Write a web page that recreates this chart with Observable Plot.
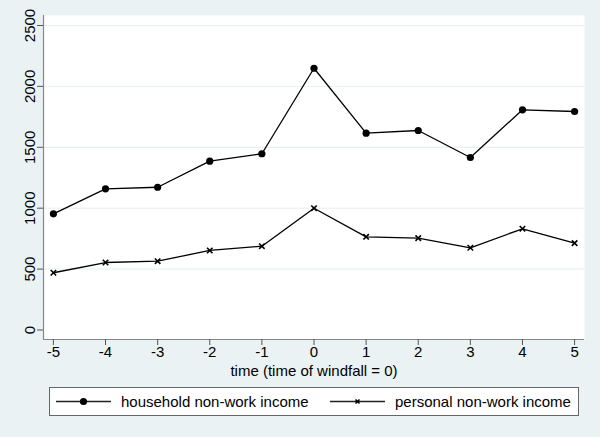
<!DOCTYPE html>
<html>
<head>
<meta charset="utf-8">
<script src="https://cdn.jsdelivr.net/npm/d3@7"></script>
<script src="https://cdn.jsdelivr.net/npm/@observablehq/plot@0.6"></script>
<style>
  html, body { margin: 0; padding: 0; background: #eaf2f3; }
  body { width: 600px; height: 437px; overflow: hidden; font-family: "Liberation Sans", Arial, sans-serif; }
  #chart svg { display: block; }
  #legend { position: relative; margin-left: 49px; margin-top: 7px; width: 528px; height: 27px;
            border: 1px solid #666; background: #fff; font-size: 15px; color: #000; }
  #legend .item { position: absolute; top: 0; height: 27px; display: flex; align-items: center; }
  #legend svg { display: block; }
</style>
</head>
<body>
<div id="chart"></div>
<div id="legend"></div>
<script>
const times = [-5, -4, -3, -2, -1, 0, 1, 2, 3, 4, 5];
const householdIncome = [954, 1159, 1172, 1386, 1447, 2149, 1616, 1638, 1416, 1808, 1794];
const personalIncome = [470, 554, 565, 653, 688, 1000, 765, 754, 675, 831, 713];
const seriesNames = ["household non-work income", "personal non-work income"];
const yTicks = [0, 500, 1000, 1500, 2000, 2500];
const xTicks = [-5, -4, -3, -2, -1, 0, 1, 2, 3, 4, 5];
const xTitle = "time (time of windfall = 0)";

const household = times.map((t, i) => ({t, v: householdIncome[i]}));
const personal = times.map((t, i) => ({t, v: personalIncome[i]}));

const xDomain = [-5.19, 5.19];
const yDomain = [-78, 2582];

const chart = Plot.plot({
  width: 600,
  height: 380,
  marginLeft: 43,
  marginRight: 16,
  marginTop: 15,
  marginBottom: 41,
  style: { background: "transparent", fontSize: "15px", fontFamily: "'Liberation Sans', Arial, sans-serif", color: "#000" },
  x: { domain: xDomain, label: null },
  y: { domain: yDomain, label: null },
  marks: [
    Plot.frame({ fill: "white", stroke: "none" }),
    Plot.gridY(yTicks.filter(d => d > 0), { stroke: "#e6eef0", strokeOpacity: 1, strokeWidth: 1 }),
    Plot.ruleX([xDomain[0]], { stroke: "#888", strokeWidth: 1.2 }),
    Plot.ruleY([yDomain[0]], { stroke: "#888", strokeWidth: 1.2 }),
    Plot.axisY(yTicks, { tickSize: 6, tickPadding: 3, tickRotate: -90, stroke: "#555", tickFormat: d => `${d}`, label: null, fontSize: 15 }),
    Plot.axisX(xTicks, { tickSize: 6, tickPadding: 1, stroke: "#555", tickFormat: d => `${d}`, label: null, fontSize: 15 }),
    Plot.text([xTitle], { text: d => d, frameAnchor: "bottom", dy: 36, fontSize: 15, fill: "#000" }),
    Plot.line(household, { x: "t", y: "v", stroke: "#000", strokeWidth: 1.3 }),
    Plot.line(personal, { x: "t", y: "v", stroke: "#000", strokeWidth: 1.3 }),
    Plot.dot(household, { x: "t", y: "v", r: 3.6, fill: "#000", stroke: "none" }),
    Plot.dot(personal, { x: "t", y: "v", symbol: "times", r: 2.6, stroke: "#000", strokeWidth: 1.6 })
  ]
});
document.getElementById("chart").appendChild(chart);

// Legend (HTML)
const legend = document.getElementById("legend");
const ns = "http://www.w3.org/2000/svg";
function swatch(kind) {
  const s = document.createElementNS(ns, "svg");
  s.setAttribute("width", 56); s.setAttribute("height", 27);
  const l = document.createElementNS(ns, "line");
  l.setAttribute("x1", 0); l.setAttribute("x2", 55); l.setAttribute("y1", 13.5); l.setAttribute("y2", 13.5);
  l.setAttribute("stroke", "#222"); l.setAttribute("stroke-width", 1.3);
  s.appendChild(l);
  if (kind === 0) {
    const c = document.createElementNS(ns, "circle");
    c.setAttribute("cx", 27.5); c.setAttribute("cy", 13.5); c.setAttribute("r", 3.6); c.setAttribute("fill", "#000");
    s.appendChild(c);
  } else {
    const p = document.createElementNS(ns, "path");
    p.setAttribute("d", "M25.5,11.5L29.5,15.5M29.5,11.5L25.5,15.5");
    p.setAttribute("stroke", "#000"); p.setAttribute("stroke-width", 1.6);
    s.appendChild(p);
  }
  return s;
}
const lefts = [6, 280];
seriesNames.forEach((name, i) => {
  const item = document.createElement("div");
  item.className = "item";
  item.style.left = lefts[i] + "px";
  item.appendChild(swatch(i));
  const t = document.createElement("span");
  t.textContent = name;
  t.style.marginLeft = "9px";
  item.appendChild(t);
  legend.appendChild(item);
});
</script>
</body>
</html>
